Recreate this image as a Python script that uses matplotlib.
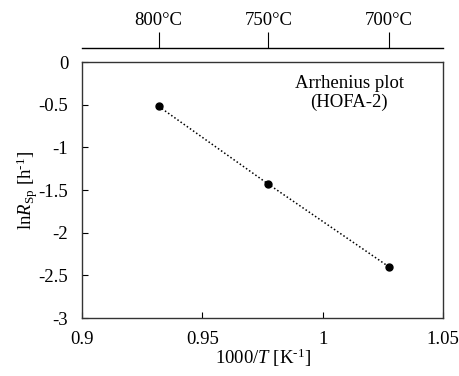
import matplotlib
matplotlib.use("Agg")
import matplotlib.pyplot as plt
import numpy as np

plt.rcParams['font.family'] = ['Liberation Serif', 'DejaVu Serif']
plt.rcParams['mathtext.fontset'] = 'custom'
plt.rcParams['mathtext.rm'] = 'Liberation Serif'
plt.rcParams['mathtext.it'] = 'Liberation Serif:italic'

# Data
temps_c = [800, 750, 700]
ln_rsp = [-0.52, -1.43, -2.40]
x_ticks = [0.9, 0.95, 1.0, 1.05]
x_tick_labels = ['0.9', '0.95', '1', '1.05']
y_ticks = [0, -0.5, -1, -1.5, -2, -2.5, -3]
y_tick_labels = ['0', '-0.5', '-1', '-1.5', '-2', '-2.5', '-3']
top_labels = ['800\u00b0C', '750\u00b0C', '700\u00b0C']

inv_t = [1000.0 / (t + 273.15) for t in temps_c]

fs = 13.5

fig = plt.figure(figsize=(4.59, 3.76), dpi=100)
ax = fig.add_axes([0.179, 0.154, 0.786, 0.681])

ax.plot(inv_t, ln_rsp, color='black', linestyle=(0, (1, 1.5)), linewidth=1.1,
        marker='o', markersize=5)

ax.set_xlim(0.9, 1.05)
ax.set_ylim(-3, 0)
ax.set_xticks(x_ticks)
ax.set_xticklabels(x_tick_labels)
ax.set_yticks(y_ticks)
ax.set_yticklabels(y_tick_labels)
ax.tick_params(direction='in', length=4, width=0.8, labelsize=fs)
ax.tick_params(axis='y', pad=10)
ax.tick_params(axis='x', pad=9)
for s in ax.spines.values():
    s.set_linewidth(1.0)
    s.set_color('#333333')

ax.set_xlabel('1000/$T$ [K$^{\\text{-}1}$]', fontsize=fs, labelpad=-1)
ax.set_ylabel('ln$R_{\\rm Sp}$ [h$^{\\text{-}1}$]', fontsize=fs, labelpad=-1)

ax.text(1.011, -0.36, 'Arrhenius plot\n(HOFA-2)', ha='center', va='center',
        fontsize=fs, linespacing=1.15)

# top temperature axis
ax2 = ax.twiny()
ax2.set_xlim(ax.get_xlim())
ax2.set_xticks(inv_t)
ax2.set_xticklabels(top_labels)
for name in ['bottom', 'left', 'right']:
    ax2.spines[name].set_visible(False)
ax2.spines['top'].set_position(('outward', 10))
ax2.spines['top'].set_linewidth(1.0)
ax2.tick_params(direction='out', length=11.5, width=0.8, labelsize=fs, pad=2)

fig.savefig('out.png', dpi=100)
